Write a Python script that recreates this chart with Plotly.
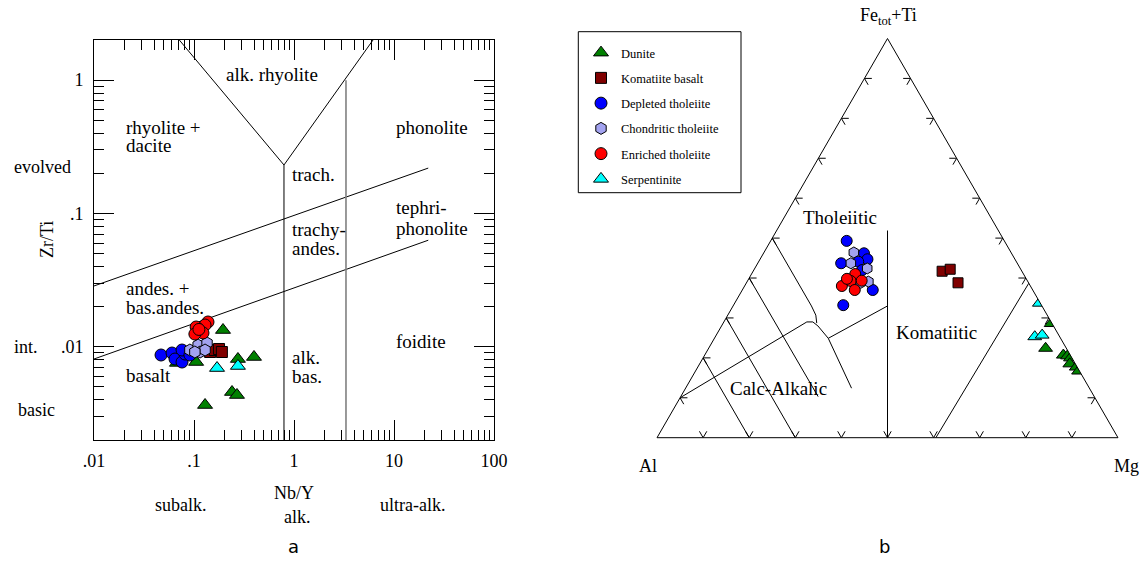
import math
import plotly.graph_objects as go

W, H = 1143, 562
SERIF = "Liberation Serif, Times New Roman, serif"
SANS = "DejaVu Sans, Verdana, sans-serif"

# ---------------- data: panel a (Nb/Y vs Zr/Ti) ----------------
dunite_nby = [0.195, 0.398, 0.275, 0.105, 0.24, 0.269, 0.129, 0.0676]
dunite_zrti = [0.01336, 0.00839, 0.0081, 0.00769, 0.00458, 0.00435, 0.00366, 0.00757]
komb_nby = [0.145, 0.162, 0.178, 0.19]
komb_zrti = [0.00914, 0.00946, 0.00963, 0.00914]
depl_nby = [0.0468, 0.0603, 0.0646, 0.0759, 0.0813, 0.0759, 0.091]
depl_zrti = [0.00868, 0.00898, 0.0081, 0.00769, 0.00883, 0.00946, 0.00868]
chon_nby = [0.091, 0.11, 0.135, 0.115, 0.129, 0.102]
chon_zrti = [0.00946, 0.0103, 0.01068, 0.00914, 0.00946, 0.00914]
enr_nby = [0.138, 0.129, 0.105, 0.123, 0.102, 0.112]
enr_zrti = [0.01535, 0.01457, 0.01408, 0.0127, 0.01247, 0.0135]
serp_nby = [0.17, 0.275]
serp_zrti = [0.00693, 0.00718]

# ---------------- data: panel b (Jensen cation plot, %) ----------------
# a = Fe(tot)+Ti, b = Al, c = Mg
dunite_fe = [28.6, 22.4, 20.7, 20.5, 20.0, 18.5, 17.7, 16.7]
dunite_al = [0.2, 4.5, 1.5, 0.7, 0.3, 1.2, 0.2, 0.2]
dunite_mg = [71.2, 73.1, 77.8, 78.8, 79.7, 80.3, 82.1, 83.1]
komb_fe = [41.7, 42.2, 38.8]
komb_al = [17.3, 15.3, 15.3]
komb_mg = [41.0, 42.5, 45.9]
depl_fe = [49.3, 43.7, 46.2, 44.7, 44.1, 37.0, 33.2, 42.0]
depl_al = [34.2, 38.2, 32.0, 32.0, 34.3, 34.7, 43.0, 34.5]
depl_mg = [16.5, 18.1, 21.8, 23.3, 21.6, 28.3, 23.8, 23.5]
chon_fe = [46.4, 43.7, 42.4, 39.1, 38.8]
chon_al = [34.1, 36.1, 33.2, 34.6, 36.4]
chon_mg = [19.5, 20.2, 24.4, 26.3, 24.8]
enr_fe = [41.0, 38.0, 39.3, 37.0, 39.3, 39.8]
enr_al = [36.5, 40.9, 38.4, 38.6, 35.9, 38.9]
enr_mg = [22.5, 21.1, 22.4, 24.4, 24.7, 21.3]
serp_fe = [33.7, 25.3, 25.7]
serp_al = [0.2, 5.4, 3.6]
serp_mg = [66.1, 69.3, 70.7]

# ---------------- diagram boundaries ----------------
# Winchester & Floyd (Pearce 1996) field lines (Nb/Y, Zr/Ti)
wf_upper = ([0.01, 22.0], [0.0286, 0.219])
wf_lower = ([0.01, 22.0], [0.0081, 0.063])
wf_vee = ([0.0713, 0.794, 6.17], [2.0, 0.231, 2.0])
wf_alk = ([0.794, 0.794], [0.231, 0.002])
wf_ultra = ([3.31, 3.31], [1.0, 0.002])

# Jensen plot boundaries (Fe+Ti, Al, Mg)
jp_lines = [
    [(10, 90, 0), (29, 53, 18), (29, 51.7, 19.3), (28, 51.1, 20.9), (24.9, 50.4, 24.7), (12.4, 51.6, 36)],
    [(50, 50, 0), (33, 50, 17), (30.7, 50.2, 19.1), (28.7, 51, 20.3)],
    [(24.9, 50.4, 24.7), (33, 33.5, 33.5)],
    [(40, 60, 0), (10.3, 59.9, 29.8)],
    [(30, 70, 0), (0, 70, 30)],
    [(20, 80, 0), (0, 80, 20)],
    [(0, 50, 50), (51.9, 24.05, 24.05)],
    [(0, 39.5, 60.5), (38.7, 0, 61.3)],
]

series = [
    ("Dunite", "triangle-up", "#008000", 13, (dunite_nby, dunite_zrti), (dunite_fe, dunite_al, dunite_mg)),
    ("Komatiite basalt", "square", "#800000", 11, (komb_nby, komb_zrti), (komb_fe, komb_al, komb_mg)),
    ("Depleted tholeiite", "circle", "#0000ff", 12, (depl_nby, depl_zrti), (depl_fe, depl_al, depl_mg)),
    ("Chondritic tholeiite", "hexagon", "#a3a3f0", 12, (chon_nby, chon_zrti), (chon_fe, chon_al, chon_mg)),
    ("Enriched tholeiite", "circle", "#ff0000", 12, (enr_nby, enr_zrti), (enr_fe, enr_al, enr_mg)),
    ("Serpentinite", "triangle-up", "#00ffff", 13, (serp_nby, serp_zrti), (serp_fe, serp_al, serp_mg)),
]

fig = go.Figure()

# ---- panel a lines
for xs, ys in [wf_upper, wf_lower, wf_vee, wf_alk]:
    fig.add_trace(go.Scatter(x=xs, y=ys, mode="lines", line=dict(color="black", width=1),
                             showlegend=False, hoverinfo="skip"))
fig.add_trace(go.Scatter(x=wf_ultra[0], y=wf_ultra[1], mode="lines",
                         line=dict(color="#808080", width=1.6), showlegend=False, hoverinfo="skip"))

# ---- panel b lines
for seg in jp_lines:
    fig.add_trace(go.Scatterternary(a=[p[0] for p in seg], b=[p[1] for p in seg], c=[p[2] for p in seg],
                                    mode="lines", line=dict(color="black", width=1),
                                    showlegend=False, hoverinfo="skip"))

# chevron tick marks on the ternary edges
d = 1.6
ca, cb, cc = [], [], []
def add(pts):
    for p in pts:
        ca.append(p[0]); cb.append(p[1]); cc.append(p[2])
    ca.append(None); cb.append(None); cc.append(None)
for k in range(1, 10):
    v = 10 * k
    # bottom edge (Fe = 0)
    add([(d, 100 - v - d, v), (0, 100 - v, v), (d, 100 - v, v - d)])
    # left edge (Mg = 0)
    add([(v, 100 - v - d, d), (v, 100 - v, 0), (v - d, 100 - v, d)])
    # right edge (Al = 0)
    add([(v, d, 100 - v - d), (v, 0, 100 - v), (v - d, d, 100 - v)])
fig.add_trace(go.Scatterternary(a=ca, b=cb, c=cc, mode="lines", connectgaps=False,
                                line=dict(color="black", width=1), showlegend=False, hoverinfo="skip"))

# ---- data markers
for i, (name, sym, col, sz, xy, abc) in enumerate(series):
    mk = dict(symbol=sym, color=col, size=sz, line=dict(color="black", width=1))
    fig.add_trace(go.Scatter(x=xy[0], y=xy[1], mode="markers", name=name, marker=mk,
                             legendgroup=name, showlegend=True))
for i, (name, sym, col, sz, xy, abc) in enumerate(series):
    mk = dict(symbol=sym, color=col, size=sz - 1, line=dict(color="black", width=1))
    fig.add_trace(go.Scatterternary(a=abc[0], b=abc[1], c=abc[2], mode="markers", name=name,
                                    marker=mk, legendgroup=name, showlegend=False))

# ---- axes
def minor_vals(lo, hi):
    out = []
    for e in range(lo, hi):
        for m in range(2, 10):
            out.append(m * 10 ** e)
    return out

axis_common = dict(type="log", showline=True, linecolor="black", linewidth=1, mirror="allticks",
                   ticks="inside", ticklen=20, tickcolor="black", showgrid=False, zeroline=False,
                   automargin=False,
                   tickfont=dict(family=SERIF, size=18, color="black"), tickmode="array")
tern_axis = dict(title=dict(text=""), showticklabels=False, ticks="", showgrid=False,
                 linecolor="black", linewidth=1)
fig.update_layout(
    xaxis=dict(domain=[94 / W, 494 / W], range=[-2, 2],
               tickvals=[0.01, 0.1, 1, 10, 100], ticktext=[".01", ".1", "1", "10", "100"],
               ticklabelstandoff=4,
               minor=dict(ticks="inside", ticklen=10, tickcolor="black", tickmode="array",
                          tickvals=minor_vals(-2, 2), showgrid=False),
               **axis_common),
    yaxis=dict(domain=[1 - 440 / H, 1 - 40 / H], range=[math.log10(0.002), math.log10(2)],
               tickvals=[0.01, 0.1, 1], ticktext=[".01", ".1", "1"],
               ticklabelstandoff=6,
               minor=dict(ticks="inside", ticklen=10, tickcolor="black", tickmode="array",
                          tickvals=minor_vals(-3, 1), showgrid=False),
               **axis_common),
    ternary=dict(
        domain=dict(x=[657 / W, 1118 / W], y=[1 - 437.7 / H, 1 - 38.5 / H]),
        sum=100, bgcolor="white",
        aaxis=tern_axis, baxis=tern_axis, caxis=tern_axis,
    ),
    width=W, height=H, margin=dict(l=0, r=0, t=0, b=0, autoexpand=False),
    paper_bgcolor="white", plot_bgcolor="white",
    legend=dict(x=581 / W, y=1 - 38 / H, xanchor="left", yanchor="top",
                bgcolor="rgba(0,0,0,0)", borderwidth=0, tracegroupgap=6,
                font=dict(family=SERIF, size=12.5, color="black")),
    showlegend=True,
)

# legend frame
fig.add_shape(type="rect", xref="paper", yref="paper",
              x0=578.3 / W, x1=741 / W, y0=1 - 192.7 / H, y1=1 - 31.7 / H,
              line=dict(color="black", width=1))

def ann(text, x, y, size=19, xanchor="left", family=SERIF, angle=0):
    fig.add_annotation(text=text, x=x / W, y=1 - y / H, xref="paper", yref="paper",
                       xanchor=xanchor, yanchor="middle", showarrow=False, textangle=angle,
                       font=dict(family=family, size=size, color="black"))

# panel a field names
ann("alk. rhyolite", 272, 74, xanchor="center")
ann("rhyolite +", 124, 127); ann("dacite", 124, 145)
ann("phonolite", 394, 127)
ann("trach.", 290, 174)
ann("tephri-", 394, 208); ann("phonolite", 394, 228)
ann("trachy-", 290, 229); ann("andes.", 290, 248)
ann("andes. +", 124, 288); ann("bas.andes.", 124, 307)
ann("foidite", 394, 341)
ann("alk.", 290, 358); ann("bas.", 290, 376)
ann("basalt", 124, 375)
# panel a outside labels
ann("evolved", 12, 167, size=18)
ann("int.", 12, 347, size=18)
ann("basic", 16, 410, size=18)
ann("Zr/Ti", 47, 240, size=18, xanchor="center", angle=-90)
ann("Nb/Y", 294, 493, size=18, xanchor="center")
ann("subalk.", 181, 505, size=18, xanchor="center")
ann("alk.", 297, 517, size=18, xanchor="center")
ann("ultra-alk.", 412, 505, size=18, xanchor="center")
ann("a", 293, 546, size=18, xanchor="center", family=SANS)
# panel b labels
ann("Fe<sub>tot</sub>+Ti", 888, 17, size=18, xanchor="center")
ann("Al", 648, 466, size=18, xanchor="center")
ann("Mg", 1126, 466, size=18, xanchor="center")
ann("Tholeiitic", 840, 218, xanchor="center")
ann("Komatiitic", 936, 332, xanchor="center")
ann("Calc-Alkalic", 778, 388, xanchor="center")
ann("b", 884, 546, size=18, xanchor="center", family=SANS)

fig.write_html("out.html")
